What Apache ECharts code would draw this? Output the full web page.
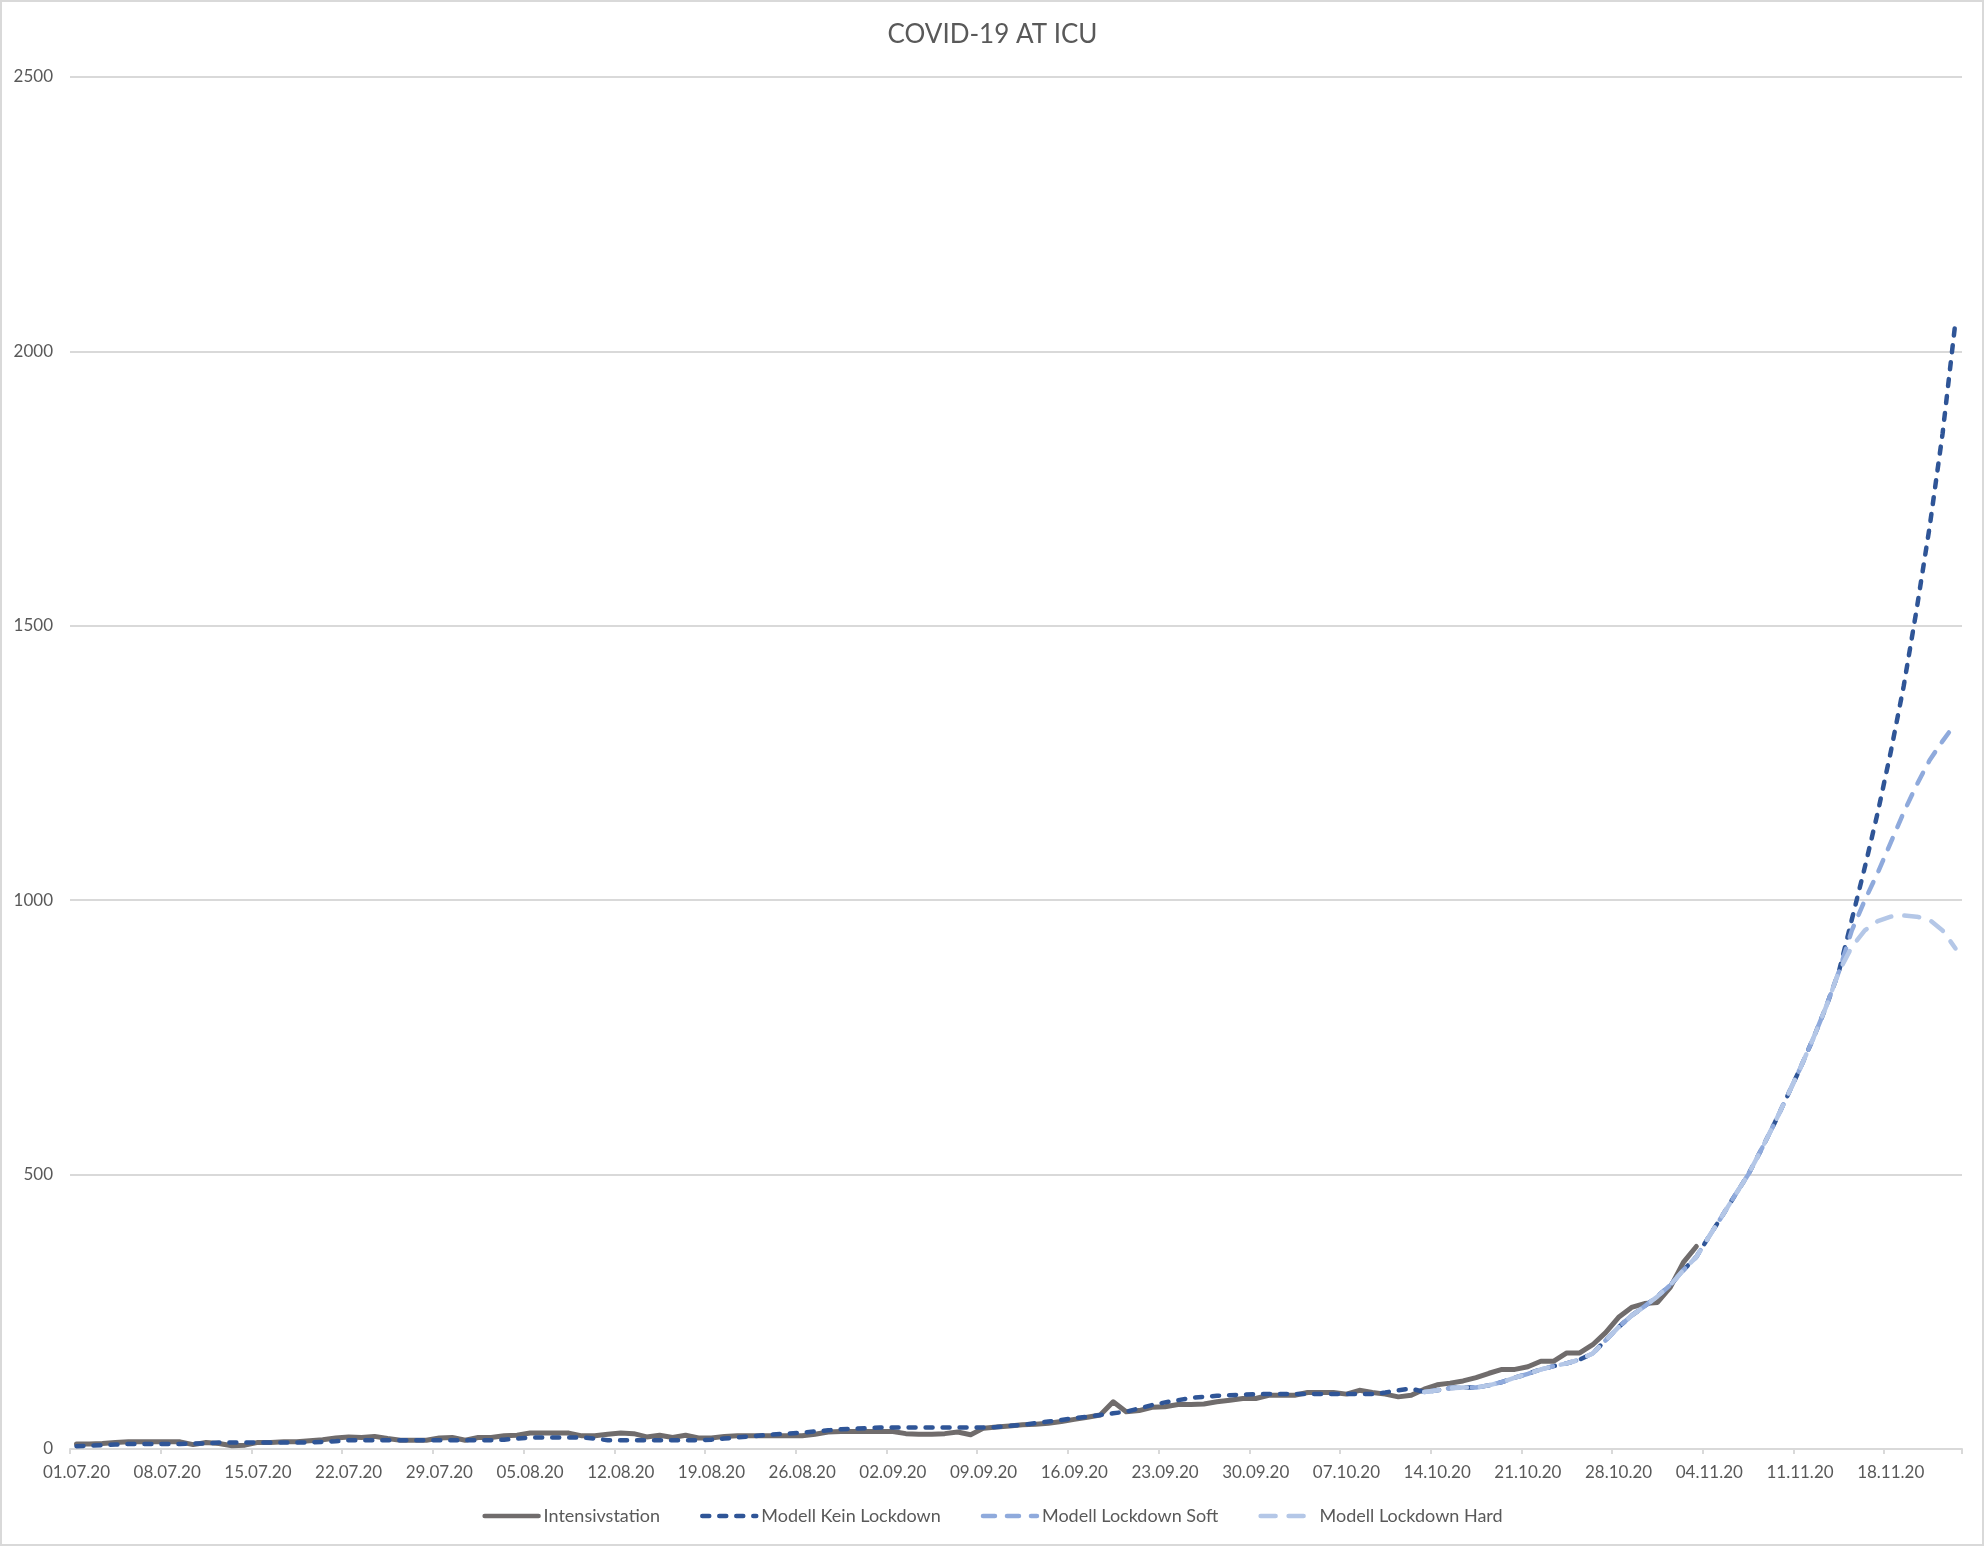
<!DOCTYPE html>
<html>
<head>
<meta charset="utf-8">
<script src="https://cdn.jsdelivr.net/npm/echarts@6/dist/echarts.min.js"></script>
<style>
html,body{margin:0;padding:0;background:#fff;}
#chart{width:1985px;height:1547px;}
</style>
</head>
<body>
<div id="chart"></div>
<script>
const dates = [
"01.07.20","02.07.20","03.07.20","04.07.20","05.07.20","06.07.20","07.07.20","08.07.20","09.07.20","10.07.20",
"11.07.20","12.07.20","13.07.20","14.07.20","15.07.20","16.07.20","17.07.20","18.07.20","19.07.20","20.07.20",
"21.07.20","22.07.20","23.07.20","24.07.20","25.07.20","26.07.20","27.07.20","28.07.20","29.07.20","30.07.20",
"31.07.20","01.08.20","02.08.20","03.08.20","04.08.20","05.08.20","06.08.20","07.08.20","08.08.20","09.08.20",
"10.08.20","11.08.20","12.08.20","13.08.20","14.08.20","15.08.20","16.08.20","17.08.20","18.08.20","19.08.20",
"20.08.20","21.08.20","22.08.20","23.08.20","24.08.20","25.08.20","26.08.20","27.08.20","28.08.20","29.08.20",
"30.08.20","31.08.20","01.09.20","02.09.20","03.09.20","04.09.20","05.09.20","06.09.20","07.09.20","08.09.20",
"09.09.20","10.09.20","11.09.20","12.09.20","13.09.20","14.09.20","15.09.20","16.09.20","17.09.20","18.09.20",
"19.09.20","20.09.20","21.09.20","22.09.20","23.09.20","24.09.20","25.09.20","26.09.20","27.09.20","28.09.20",
"29.09.20","30.09.20","01.10.20","02.10.20","03.10.20","04.10.20","05.10.20","06.10.20","07.10.20","08.10.20",
"09.10.20","10.10.20","11.10.20","12.10.20","13.10.20","14.10.20","15.10.20","16.10.20","17.10.20","18.10.20",
"19.10.20","20.10.20","21.10.20","22.10.20","23.10.20","24.10.20","25.10.20","26.10.20","27.10.20","28.10.20",
"29.10.20","30.10.20","31.10.20","01.11.20","02.11.20","03.11.20","04.11.20","05.11.20","06.11.20","07.11.20",
"08.11.20","09.11.20","10.11.20","11.11.20","12.11.20","13.11.20","14.11.20","15.11.20","16.11.20","17.11.20",
"18.11.20","19.11.20","20.11.20","21.11.20","22.11.20","23.11.20"
];

// Intensivstation (observed), 01.07 - 03.11
const intensiv = [
9,9,10,12,13,13,13,13,13,8,
12,10,6,7,12,12,13,13,15,17,
20,22,21,23,19,16,16,16,20,21,
16,21,21,24,25,29,29,29,29,24,
24,27,29,28,22,25,21,25,20,20,
23,24,24,24,24,24,24,27,31,32,
32,32,32,32,28,27,27,28,31,26,
38,40,42,44,45,47,50,54,58,62,
86,68,70,76,77,81,81,82,86,89,
92,92,98,98,98,103,103,103,100,107,
103,100,95,98,109,117,120,124,130,138,
145,145,150,160,160,175,175,190,212,240,
258,265,267,295,340,369
];

// Modell Kein Lockdown, 01.07 - 23.11
const keinLockdown = [
5,6,7,8,9,9,9,9,9,10,
10,12,12,12,12,12,12,12,12,13,
14,16,16,16,16,16,16,16,16,16,
16,16,16,17,19,21,21,21,21,21,
19,16,16,16,16,16,16,16,16,17,
19,21,23,25,27,28,30,32,34,36,
37,38,39,39,39,39,39,39,39,39,
39,40,42,44,47,50,53,56,59,62,
65,68,74,80,85,89,93,95,97,98,
99,100,100,100,100,100,100,100,100,100,
100,103,107,110,104,107,111,112,112,116,
122,130,137,145,151,156,163,174,198,222,
243,260,278,299,326,350,388,425,463,500,
545,592,642,693,747,805,870,965,1060,1160,
1270,1390,1530,1680,1850,2055
];

// Modell Lockdown Soft, 13.10 - 23.11
const lockdownSoft = [
104,107,111,112,112,116,
122,130,137,145,151,156,163,174,198,222,
243,260,278,299,326,350,388,425,463,500,
545,592,642,693,747,805,870,945,1000,1050,
1105,1160,1210,1255,1290,1322
];

// Modell Lockdown Hard, 13.10 - 23.11
const lockdownHard = [
104,107,111,112,112,116,
122,130,137,145,151,156,163,174,198,222,
243,260,278,299,326,350,388,425,463,500,
545,592,642,693,747,805,870,915,945,962,
970,972,970,964,945,912
];

const yMin = 0, yMax = 2500, yStep = 500;
const seriesNames = ["Intensivstation","Modell Kein Lockdown","Modell Lockdown Soft","Modell Lockdown Hard"];

function padFront(arr){
  const out = new Array(dates.length).fill(null);
  const start = dates.length - arr.length;
  for (let i = 0; i < arr.length; i++) out[start + i] = arr[i];
  return out;
}
function padBack(arr){
  const out = new Array(dates.length).fill(null);
  for (let i = 0; i < arr.length; i++) out[i] = arr[i];
  return out;
}

const FONT = "Lato, 'Open Sans', sans-serif";
const chart = echarts.init(document.getElementById('chart'), null, {renderer:'canvas'});
chart.setOption({
  backgroundColor:'#ffffff',
  animation:false,
  graphic:[{
    type:'rect', silent:true, z:-1,
    shape:{x:1, y:1, width:1982, height:1544},
    style:{fill:'none', stroke:'#d9d9d9', lineWidth:2}
  }],
  title:{
    text:'COVID-19 AT ICU',
    left:'center', top:17,
    textStyle:{fontFamily:FONT, fontSize:26, fontWeight:'normal', color:'#595959'}
  },
  legend:{
    data:seriesNames,
    left:'center', top:1502,
    itemWidth:54, itemHeight:14, itemGap:40,
    itemStyle:{opacity:0},
    lineStyle:{width:4.5, cap:'round'},
    textStyle:{fontFamily:FONT, fontSize:18, color:'#595959'}
  },
  grid:{left:70, right:23, top:77, bottom:98, containLabel:false},
  xAxis:{
    type:'category',
    data:dates,
    boundaryGap:true,
    axisLine:{show:true, lineStyle:{color:'#d9d9d9', width:2}},
    axisTick:{show:true, interval:6, length:5, lineStyle:{color:'#d9d9d9', width:2}},
    axisLabel:{interval:6, margin:15, color:'#595959', fontFamily:FONT, fontSize:17},
    splitLine:{show:false}
  },
  yAxis:{
    type:'value',
    min:yMin, max:yMax, interval:yStep,
    axisLine:{show:false},
    axisTick:{show:false},
    axisLabel:{margin:17, color:'#595959', fontFamily:FONT, fontSize:17, formatter:function(v){return String(v);}},
    splitLine:{show:true, lineStyle:{color:'#d9d9d9', width:2}}
  },
  series:[
    {
      name:seriesNames[0], type:'line', data:padBack(intensiv),
      symbol:'none', smooth:false, z:2,
      lineStyle:{color:'#706c6c', width:5, cap:'round', join:'round'},
      itemStyle:{color:'#706c6c'}
    },
    {
      name:seriesNames[1], type:'line', data:keinLockdown,
      symbol:'none', smooth:false, z:3,
      lineStyle:{color:'#2F5597', width:4.5, type:[7,10], cap:'round', join:'round'},
      itemStyle:{color:'#2F5597'}
    },
    {
      name:seriesNames[2], type:'line', data:padFront(lockdownSoft),
      symbol:'none', smooth:false, z:4,
      lineStyle:{color:'#8FAADC', width:4.5, type:[12,12], cap:'round', join:'round'},
      itemStyle:{color:'#8FAADC'}
    },
    {
      name:seriesNames[3], type:'line', data:padFront(lockdownHard),
      symbol:'none', smooth:false, z:5,
      lineStyle:{color:'#B4C7E7', width:4.5, type:[15,13], cap:'round', join:'round'},
      itemStyle:{color:'#B4C7E7'}
    }
  ]
});
</script>
</body>
</html>
